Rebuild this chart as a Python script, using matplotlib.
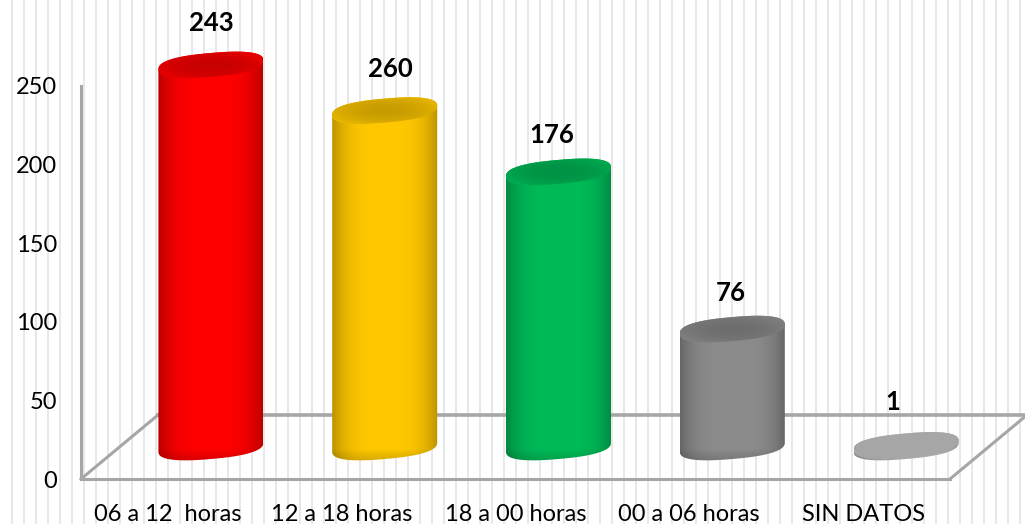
import numpy as np
import matplotlib
matplotlib.use("Agg")
import matplotlib.pyplot as plt
from matplotlib.patches import Polygon

plt.rcParams["font.family"] = ["Lato", "DejaVu Sans"]

categories = ["06 a 12  horas", "12 a 18 horas", "18 a 00 horas", "00 a 06 horas", "SIN DATOS"]
# printed labels do not agree with the drawn heights for the second bar
value_labels = ["243", "260", "176", "76", "1"]
bar_heights = [243, 214, 175, 75, 1]
y_ticks = [0, 50, 100, 150, 200, 250]
bar_colors = ["#ff0000", "#ffc800", "#00bb58", "#8c8c8c", "#bdbdbd"]

# hand placed labels in the original, offsets in pixels from the bar top
label_nudge = [(0, 42), (6, 42), (-7, 37), (-2, 36), (-13, 43)]

W, H = 1025, 524
AX_L, AX_R, AX_T, AX_B = 81, 950, 86, 479
LINE = "#a6a6a6"

fig = plt.figure(figsize=(W / 100, H / 100), dpi=100)

# striped backdrop, runs across the whole picture
bg = fig.add_axes([0, 0, 1, 1], zorder=0)
bg.set_xlim(0, W)
bg.set_ylim(H, 0)
bg.axis("off")
bg.vlines(np.arange(11.7, W, 12.0), 0, H, color="#e6e6e6", linewidth=1.3)

ax = fig.add_axes(
    [AX_L / W, (H - AX_B) / H, (AX_R - AX_L) / W, (AX_B - AX_T) / H], zorder=1
)
ax.patch.set_alpha(0)
xlim = (-0.5, 4.5)
ylim = (0, 250)

px_x = (xlim[1] - xlim[0]) / (AX_R - AX_L)
px_y = (ylim[1] - ylim[0]) / (AX_B - AX_T)

# floor of the 3d box
back_dx, back_dy = 77 * px_x, 64 * px_y
ax.plot([xlim[0], xlim[0] + back_dx], [0, back_dy], color=LINE, lw=2.2, clip_on=False, zorder=1)
ax.plot([xlim[1], xlim[1] + back_dx], [0, back_dy], color=LINE, lw=2.2, clip_on=False, zorder=1)
ax.plot([xlim[0] + back_dx, xlim[1] + back_dx], [back_dy, back_dy], color=LINE, lw=2.6, clip_on=False, zorder=1)

# cylinders sit half way into the floor
off_x, off_y = 43 * px_x, 32 * px_y
half_w = 52.5 * px_x
semi_b = 12 * px_y
tilt = 4.5 * px_y
t = np.linspace(0, 2 * np.pi, 181)


def rim(cx, cy, angles):
    # slightly squared ellipse, the caps in the original have round ends
    c = np.sign(np.cos(angles)) * np.abs(np.cos(angles)) ** 0.8
    s = np.sign(np.sin(angles)) * np.abs(np.sin(angles)) ** 0.8
    return np.column_stack([cx + half_w * c, cy + semi_b * s + tilt * c])


def shaded(color, shade, extent, clip, zorder):
    rgb = np.array(matplotlib.colors.to_rgb(color))
    img = ax.imshow(
        shade[..., None] * rgb,
        extent=extent,
        origin="lower",
        aspect="auto",
        interpolation="bilinear",
        zorder=zorder,
    )
    patch = Polygon(clip, closed=True, transform=ax.transData, fill=False, edgecolor="none")
    patch.set_clip_on(False)
    ax.add_patch(patch)
    img.set_clip_path(patch)
    # images fall back to the axes box otherwise
    img.set_clip_box(fig.bbox)


ax.set_xlim(*xlim)
ax.set_ylim(*ylim)
ax.set_autoscale_on(False)

for i, (height, color) in enumerate(zip(bar_heights, bar_colors)):
    cx = i + off_x
    base = off_y
    top = base + height
    low = base - 16 * px_y
    high = top + 16 * px_y
    extent = (cx - half_w, cx + half_w, low, high)

    # body: lower half of the base ring, upper half of the top ring
    body = np.vstack([rim(cx, base, t[90:]), rim(cx, top, t[:91])])
    u = np.linspace(-1, 1, 120)
    v = np.linspace(low, high, 400)
    uu, vv = np.meshgrid(u, v)
    shade = 1 - 0.27 * np.abs(uu) ** 3.5
    shade = shade * (1 - 0.15 * np.clip((base - 2 * px_y - vv) / (12 * px_y), 0, 1))
    shaded(color, shade, extent, body, 3 + i)

    # top cap, a little darker than the body
    cap = rim(cx, top, t)
    r = np.sqrt(uu**2 + ((vv - top) / (14 * px_y)) ** 2)
    shade = np.clip(0.78 + 0.1 * r**2, 0, 1) if height > 5 else np.full(r.shape, 0.88)
    shaded(color, shade, extent, cap, 3 + i)

    dx, dy = label_nudge[i]
    ax.annotate(
        value_labels[i],
        xy=(cx, top),
        xytext=(dx * 0.72, dy * 0.72),
        textcoords="offset points",
        ha="center",
        va="center",
        fontsize=18.5,
        fontweight="bold",
        color="#000000",
        zorder=20,
        annotation_clip=False,
    )

ax.set_xticks(range(len(categories)), categories)
ax.set_yticks(y_ticks)
ax.tick_params(axis="x", length=0, pad=18, labelsize=17)
ax.tick_params(axis="y", length=0, pad=17, labelsize=17)
for side in ["top", "right"]:
    ax.spines[side].set_visible(False)
for side in ["left", "bottom"]:
    ax.spines[side].set_color(LINE)
    ax.spines[side].set_linewidth(2.2)

fig.savefig("out.png", dpi=100)
